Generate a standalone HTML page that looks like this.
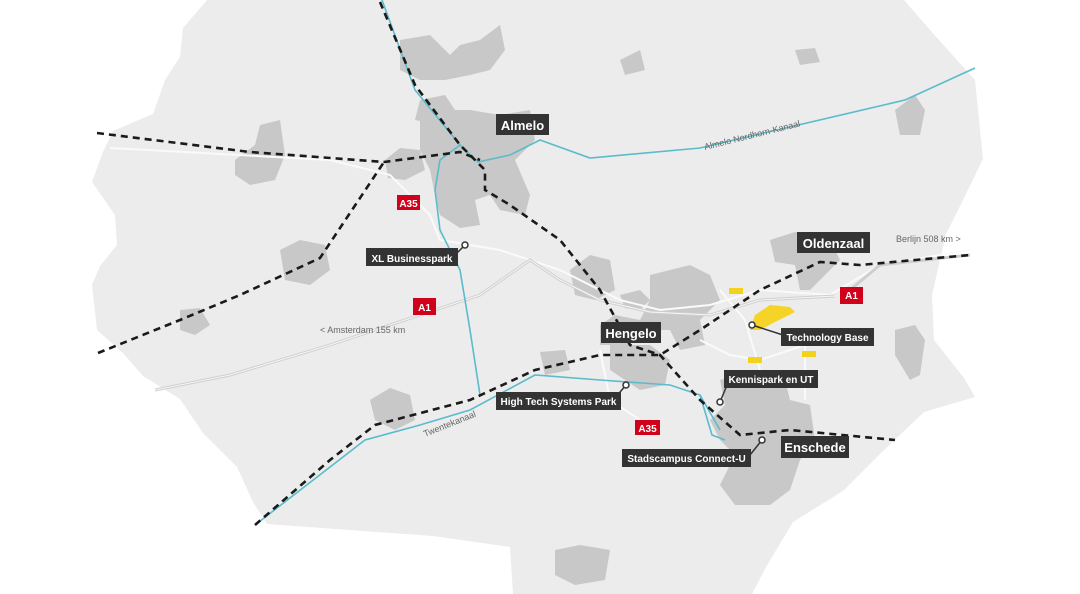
<!DOCTYPE html>
<html><head><meta charset="utf-8"><style>
html,body{margin:0;padding:0;background:#fff;width:1080px;height:594px;overflow:hidden}
svg{display:block}
text{font-family:"Liberation Sans",sans-serif;font-weight:bold}
</style></head><body>
<svg width="1080" height="594" viewBox="0 0 1080 594" xmlns="http://www.w3.org/2000/svg">
<path fill="#ececec" d="M207,0 L904,0 L930,30 L975,80 L983,159 L961,204 L946,234 L932,295 L934,340 L964,378 L975,397 L924,412 L880,454 L843,491 L793,522 L766,567 L752,594 L513,594 L510,547 L433,536 L267,524 L253,502 L237,467 L203,433 L180,399 L143,376 L123,353 L97,330 L92,285 L100,266 L117,245 L115,215 L92,182 L103,152 L113,131 L153,114 L165,80 L180,57 L183,28 Z"/>
<g fill="#c8c8c8">
<path d="M420,120 L440,110 L470,110 L500,115 L530,110 L535,140 L515,160 L530,195 L525,215 L500,210 L490,195 L475,200 L480,225 L460,228 L440,215 L435,195 L430,170 L420,150 Z"/>
<path d="M415,120 L420,100 L445,95 L455,110 L440,125 Z"/>
<path d="M385,160 L400,148 L420,150 L425,170 L405,180 L388,178 Z"/>
<path d="M400,40 L430,35 L450,55 L460,45 L480,40 L500,25 L505,50 L490,70 L470,75 L445,80 L420,80 L400,70 Z"/>
<path d="M235,160 L255,145 L260,125 L280,120 L285,155 L275,180 L250,185 L235,175 Z"/>
<path d="M280,250 L300,240 L325,245 L330,270 L310,285 L285,280 Z"/>
<path d="M180,310 L200,308 L210,325 L195,335 L180,330 Z"/>
<path d="M370,400 L390,388 L410,395 L415,420 L395,430 L375,420 Z"/>
<path d="M570,270 L590,255 L610,260 L615,290 L595,300 L575,295 Z"/>
<path d="M620,295 L640,290 L650,300 L640,310 L625,308 Z"/>
<path d="M650,275 L690,265 L710,275 L720,300 L700,320 L705,345 L680,350 L670,330 L640,330 L630,345 L600,345 L600,325 L615,315 L640,320 L650,300 Z"/>
<path d="M610,345 L650,345 L670,360 L665,385 L640,390 L625,380 L610,370 Z"/>
<path d="M540,352 L565,350 L570,370 L545,375 Z"/>
<path d="M770,240 L795,232 L830,240 L840,260 L825,275 L810,290 L800,290 L795,265 L775,262 Z"/>
<path d="M720,380 L760,370 L785,380 L790,400 L810,405 L815,440 L800,460 L790,490 L770,505 L735,505 L720,485 L735,455 L720,440 L710,420 L725,405 Z"/>
<path d="M895,330 L915,325 L925,340 L920,375 L910,380 L895,355 Z"/>
<path d="M895,110 L915,95 L925,110 L920,135 L900,135 Z"/>
<path d="M620,60 L640,50 L645,70 L625,75 Z"/>
<path d="M795,50 L815,48 L820,62 L800,65 Z"/>
<path d="M555,550 L580,545 L610,550 L605,580 L575,585 L555,575 Z"/>
</g>
<g fill="none" stroke="#fafafa" stroke-width="2">
<path d="M110,148 L330,160 L390,175 L430,215 L440,240 L500,250 L560,270 L620,300 L660,310 L710,305 L760,290 L830,295 L880,265 L970,250"/>
<path d="M700,340 L730,355 L760,360 L805,345 L805,400"/>
<path d="M720,290 L745,320 L760,370"/>
<path d="M600,350 L610,400 L640,420"/>
</g>
<path d="M125,345 M155,390 L230,375 L330,345 L420,315 L480,295 L530,260 L560,280 L600,300 L650,312 L710,315 L760,300 L835,296" fill="none" stroke="#cfcfcf" stroke-width="3"/>
<path d="M155,390 L230,375 L330,345 L420,315 L480,295 L530,260 L560,280 L600,300 L650,312 L710,315 L760,300 L835,296" fill="none" stroke="#f6f6f6" stroke-width="1"/>
<path d="M850,290 L880,265 L970,255" fill="none" stroke="#cfcfcf" stroke-width="3"/>
<g fill="none" stroke="#5bbbcc" stroke-width="1.6">
<path d="M382,0 L415,90 L460,145 L478,162 L510,155 L540,140 L590,158 L700,148 L905,100 L975,68"/>
<path d="M460,145 L440,160 L435,190 L440,230 L460,270 L470,330 L480,395"/>
<path d="M255,525 L365,440 L420,425 L470,410 L535,375 L600,380 L670,385 L700,395 L712,435 L725,440"/>
<path d="M700,395 L720,430"/>
</g>
<g fill="none" stroke="#1a1a1a" stroke-width="2.6" stroke-dasharray="7,5">
<path d="M97,133 L250,152 L384,162 L460,152 L480,160"/>
<path d="M98,353 L180,320 L240,295 L320,258 L384,162"/>
<path d="M380,2 L415,85 L460,145 L485,170 L485,190 L510,205 L560,240 L600,290 L630,345 L660,355 L700,400 L740,435 L790,430 L895,440"/>
<path d="M255,525 L330,460 L375,425 L470,400 L535,370 L600,355 L660,355 L700,330 L760,290 L820,262 L860,265 L970,255"/>
</g>
<path d="M755,315 L770,305 L790,307 L795,312 L775,322 L760,330 L750,330 Z" fill="#f5d327"/>
<rect x="729" y="288" width="14" height="6" fill="#f2d21a"/>
<rect x="748" y="357" width="14" height="6" fill="#f2d21a"/>
<rect x="802" y="351" width="14" height="6" fill="#f2d21a"/>
<g>
<rect x="397" y="195" width="23" height="15" fill="#d0021b"/><text x="408.5" y="207" font-size="10" fill="#fff" text-anchor="middle">A35</text>
<rect x="413" y="298" width="23" height="17" fill="#d0021b"/><text x="424.5" y="311" font-size="10" fill="#fff" text-anchor="middle">A1</text>
<rect x="840" y="287" width="23" height="17" fill="#d0021b"/><text x="851.5" y="299" font-size="10" fill="#fff" text-anchor="middle">A1</text>
<rect x="635" y="420" width="25" height="15" fill="#d0021b"/><text x="647.5" y="432" font-size="10" fill="#fff" text-anchor="middle">A35</text>
</g>
<g stroke="#333" stroke-width="1.5" fill="#fff">
<line x1="465" y1="245" x2="455" y2="255"/>
<line x1="626" y1="385" x2="615" y2="398"/>
<line x1="752" y1="325" x2="783" y2="335"/>
<line x1="720" y1="402" x2="730" y2="378"/>
<line x1="762" y1="440" x2="750" y2="455"/>
<circle cx="465" cy="245" r="3"/><circle cx="626" cy="385" r="3"/><circle cx="752" cy="325" r="3"/><circle cx="720" cy="402" r="3"/><circle cx="762" cy="440" r="3"/>
</g>
<g fill="#333">
<rect x="496" y="114" width="53" height="21"/>
<rect x="366" y="248" width="92" height="18"/>
<rect x="601" y="322" width="60" height="21"/>
<rect x="797" y="232" width="73" height="21"/>
<rect x="781" y="328" width="93" height="18"/>
<rect x="724" y="370" width="94" height="18"/>
<rect x="496" y="392" width="125" height="18"/>
<rect x="781" y="436" width="68" height="22"/>
<rect x="622" y="449" width="129" height="18"/>
</g>
<g fill="#fff">
<text x="522.5" y="130" font-size="13" text-anchor="middle">Almelo</text>
<text x="412" y="262" font-size="10" text-anchor="middle">XL Businesspark</text>
<text x="631" y="338" font-size="13" text-anchor="middle">Hengelo</text>
<text x="833.5" y="248" font-size="13" text-anchor="middle">Oldenzaal</text>
<text x="827.5" y="341" font-size="10" text-anchor="middle">Technology Base</text>
<text x="771" y="383" font-size="10" text-anchor="middle">Kennispark en UT</text>
<text x="558.5" y="405" font-size="10" text-anchor="middle">High Tech Systems Park</text>
<text x="815" y="452" font-size="13" text-anchor="middle">Enschede</text>
<text x="686.5" y="462" font-size="10" text-anchor="middle">Stadscampus Connect-U</text>
</g>
<g fill="#666" font-size="9">
<text x="320" y="333" style="font-weight:normal">&lt; Amsterdam 155 km</text>
<text x="896" y="242" style="font-weight:normal">Berlijn 508 km &gt;</text>
<text x="705" y="150" transform="rotate(-14 705 150)" style="font-weight:normal">Almelo Nordhorn-Kanaal</text>
<text x="425" y="437" transform="rotate(-22 425 437)" style="font-weight:normal">Twentekanaal</text>
</g>
</svg>
</body></html>
